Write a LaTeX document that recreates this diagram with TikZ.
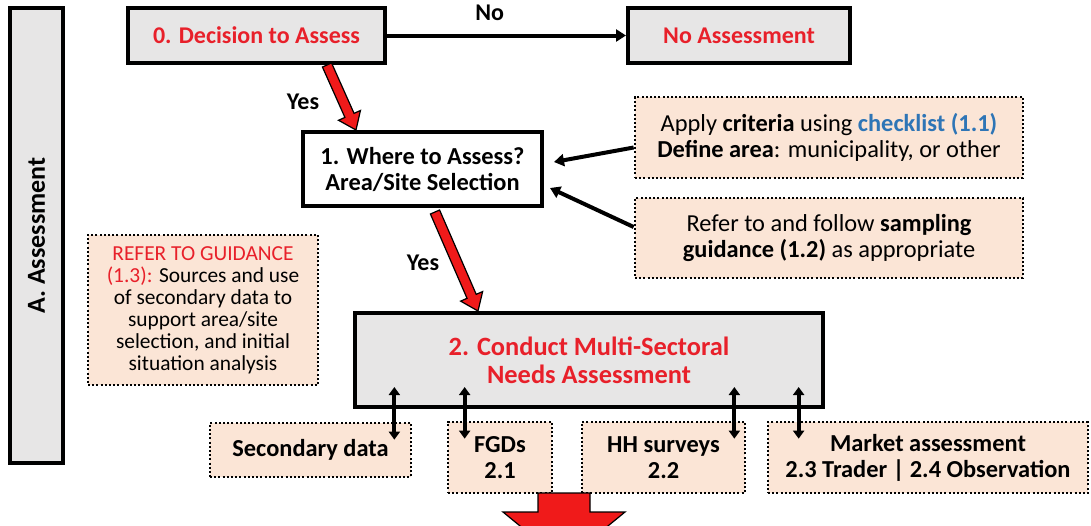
\documentclass[tikz,border=0pt]{standalone}
\usepackage{fontspec}
\setmainfont{Carlito}
\usepackage{tikz}
\usetikzlibrary{calc,arrows.meta}
\definecolor{boxred}{HTML}{E8202A}
\definecolor{boxgray}{HTML}{E7E6E6}
\definecolor{peach}{HTML}{FBE5D6}
\definecolor{linkblue}{HTML}{2E75B6}
\definecolor{arrowred}{HTML}{F01A1A}
\tikzset{mainbox/.style={draw,line width=2pt,fill=boxgray,text=boxred,align=center,inner sep=0pt,
		font=\bfseries\fontsize{12}{13}\selectfont},
	notebox/.style={draw,line width=1.35pt,dash pattern=on 1pt off 1.1pt,fill=peach,align=center,inner sep=0pt,
		font=\fontsize{12.2}{13}\selectfont},
	lbl/.style={font=\bfseries\fontsize{12}{13}\selectfont},
	link/.style={draw,line width=2pt,-{Triangle[length=5pt,width=6pt]}},
	biarrow/.style={draw,line width=2pt,{Triangle[length=4pt,width=5.5pt]}-{Triangle[length=4pt,width=5.5pt]}},
	yesarrow/.style={draw=black,fill=arrowred,line width=0.6pt,line join=miter}}
\newcommand{\blockarrow}[2]{%
	\filldraw[yesarrow] ($(#1)!2.5pt!90:(#2)$) -- ($(#2)!8pt!(#1)!2.5pt!90:(#2)$)
	-- ($(#2)!8pt!(#1)!6pt!90:(#2)$) -- (#2) -- ($(#2)!8pt!(#1)!6pt!-90:(#2)$)
	-- ($(#2)!8pt!(#1)!2.5pt!-90:(#2)$) -- ($(#1)!2.5pt!-90:(#2)$) -- cycle;}

\begin{document}
\begin{tikzpicture}[x=0.5pt,y=-0.5pt]
	\clip (0,0) rectangle (1091,525);
	\node[mainbox,text=black,rotate=90,minimum width=227.5pt,minimum height=26.5pt,
		font=\bfseries\fontsize{13}{14}\selectfont] (assess) at (36.5,235.5) {A. Assessment};
	\node[mainbox,minimum width=128.5pt,minimum height=27.5pt] (decide) at (256.5,35.5) {0. Decision to Assess};
	\node[mainbox,minimum width=111pt,minimum height=27.5pt] (noassess) at (739,35.5) {No Assessment};
	\node[mainbox,fill=white,text=black,minimum width=119.5pt,minimum height=37pt,
		font=\bfseries\fontsize{12.2}{13}\selectfont] (where) at (422.5,169) {1. Where to Assess?\\Area/Site Selection};
	\node[notebox,minimum width=194pt,minimum height=40.5pt] (criteria) at (829,137.5)
		{Apply \textbf{criteria} using \textcolor{linkblue}{\textbf{checklist (1.1)}}\\\textbf{Define area}: municipality, or other};
	\node[notebox,minimum width=194pt,minimum height=40pt] (sampling) at (829,238)
		{Refer to and follow \textbf{sampling}\\\textbf{guidance (1.2)} as appropriate};
	\node[notebox,minimum width=115pt,minimum height=75pt,font=\fontsize{10.7}{11}\selectfont] (guide) at (203,310)
		{\textcolor{boxred}{REFER TO GUIDANCE}\\\textcolor{boxred}{(1.3):} Sources and use\\of secondary data to\\support area/site\\selection, and initial\\situation analysis};
	\node[mainbox,minimum width=234pt,minimum height=47pt,font=\bfseries\fontsize{13.2}{14}\selectfont] (msna) at (589,360)
		{2. Conduct Multi-Sectoral\\Needs Assessment};
	\node[notebox,minimum width=100.5pt,minimum height=27pt,font=\bfseries\fontsize{12.2}{13}\selectfont] (secdata) at (310.5,450) {Secondary data};
	\node[notebox,minimum width=52pt,minimum height=35.5pt,font=\bfseries\fontsize{12.2}{13}\selectfont] (fgd) at (500,457.5) {FGDs\\2.1};
	\node[notebox,minimum width=81.5pt,minimum height=35.5pt,font=\bfseries\fontsize{12.2}{13}\selectfont] (hhs) at (663.5,457.5) {HH surveys\\2.2};
	\node[notebox,minimum width=160pt,minimum height=35.5pt,font=\bfseries\fontsize{12.2}{13}\selectfont] (market) at (928,457.5)
		{Market assessment\\2.3 Trader \textbar{} 2.4 Observation};

	\draw[link] (decide) -- node[lbl,pos=0.43,above=3pt] (no) {No} (noassess);
	\coordinate (yes1a) at ([xshift=35.25pt]decide.south);
	\coordinate (yes1b) at ([xshift=-33.25pt]where.north);
	\coordinate (yes2a) at ([xshift=6.25pt,yshift=-2pt]where.south);
	\coordinate (yes2b) at ([xshift=-55.5pt]msna.north);
	\blockarrow{yes1a}{yes1b}
	\blockarrow{yes2a}{yes2b}
	\node[lbl] (yes1) at (303,102) {Yes};
	\node[lbl] (yes2) at (423,263) {Yes};
	\draw[link] ([yshift=-5pt]criteria.west) -- ([xshift=5pt,yshift=3.5pt]where.east);
	\draw[link] ([yshift=5.5pt]sampling.west) -- ([xshift=3pt,yshift=-9.5pt]where.east);

	\draw[biarrow,shorten <=-11pt,shorten >=-9pt] ([xshift=-9pt]secdata.north east |- msna.south) -- ([xshift=-9pt]secdata.north east);
	\draw[biarrow,shorten <=-11pt,shorten >=-9pt] ([xshift=9pt]fgd.north west |- msna.south) -- ([xshift=9pt]fgd.north west);
	\draw[biarrow,shorten <=-11pt,shorten >=-9pt] ([xshift=-6pt]hhs.north east |- msna.south) -- ([xshift=-6pt]hhs.north east);
	\draw[biarrow,shorten <=-11pt,shorten >=-9pt] ([xshift=16pt]market.north west |- msna.south) -- ([xshift=16pt]market.north west);

	\filldraw[yesarrow] (538,493) -- (590,493) -- (590,512) -- (625,512) -- (564,562) -- (503,512) -- (538,512) -- cycle;
\end{tikzpicture}
\end{document}
